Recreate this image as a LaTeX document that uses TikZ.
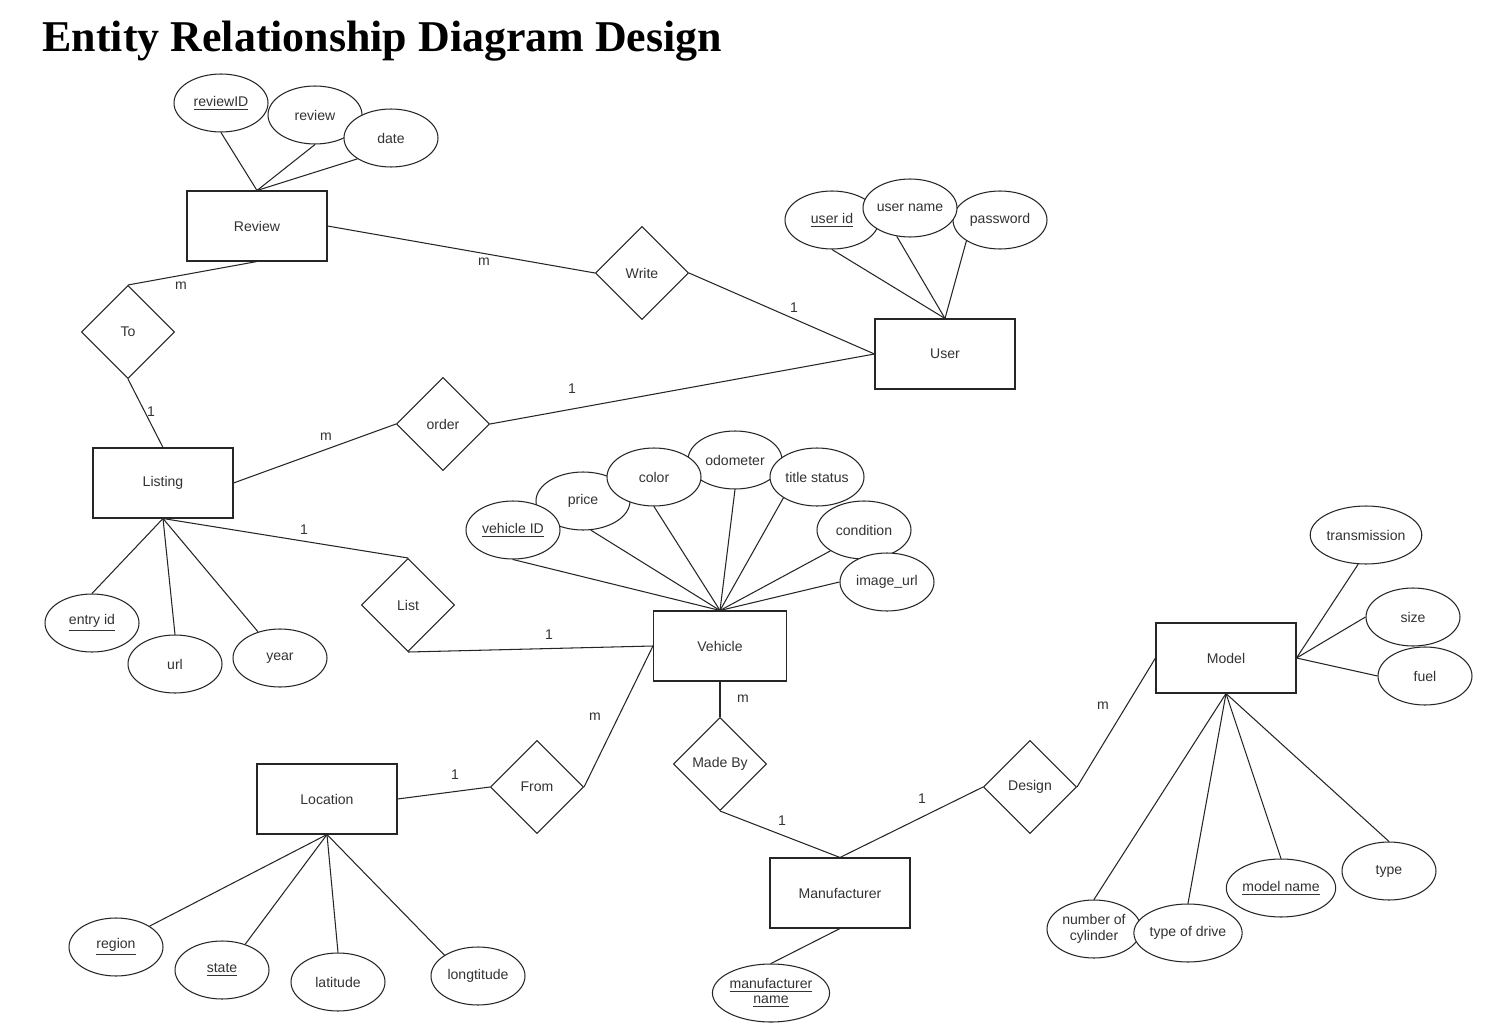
\documentclass[tikz,border=0pt]{standalone}
\usepackage{fontspec}
\setmainfont{Liberation Sans}
\newfontfamily\titlefont{Liberation Serif}
\usetikzlibrary{shapes.geometric}

\definecolor{ink}{HTML}{333333}

\tikzset{
    entity/.style={draw, fill=white, minimum width=2.8cm, minimum height=1.4cm, inner sep=0},
    attr/.style={draw, fill=white, ellipse, minimum width=1.88cm, minimum height=1.16cm, inner sep=0, align=center},
    rel/.style={draw, fill=white, diamond, minimum width=1.86cm, minimum height=1.86cm, inner sep=0},
    card/.style={inner sep=0},
}

\begin{document}
\begin{tikzpicture}[x=0.02cm, y=-0.02cm, line width=0.6pt, draw=black!85, text=ink,
    font=\fontsize{8}{9.5}\selectfont]

        \useasboundingbox (0,0) rectangle (1492,1034);

        \node[anchor=base west, inner sep=0, text=black, font=\titlefont\bfseries\fontsize{25}{28}\selectfont] (title) at (42,52) {Entity Relationship Diagram Design};

        % entities
        \node[entity] (review) at (257,226) {Review};
        \node[entity] (user) at (945,354) {User};
        \node[entity] (listing) at (163,483) {Listing};
        \node[entity, minimum width=2.66cm] (vehicle) at (720,646) {Vehicle};
        \node[entity] (location) at (327,799) {Location};
        \node[entity] (manuf) at (840,893) {Manufacturer};
        \node[entity] (model) at (1226,658) {Model};

        % relationships
        \node[rel] (write) at (642,273) {Write};
        \node[rel] (to) at (128,332) {To};
        \node[rel] (order) at (443,424) {order};
        \node[rel] (list) at (408,605) {List};
        \node[rel] (from) at (537,787) {From};
        \node[rel] (madeby) at (720,764) {Made By};
        \node[rel] (design) at (1030,787) {Design};

        % attributes
        \node[attr] (reviewid) at (221,103) {\underline{reviewID}};
        \node[attr] (revtext) at (315,115) {review};
        \node[attr] (revdate) at (391,138) {date};

        \node[attr] (userid) at (832,220) {\underline{user id}};
        \node[attr] (password) at (1000,220) {password};
        \node[attr] (username) at (910,208) {user name};

        \node[attr] (entryid) at (92,623) {\underline{entry id}};
        \node[attr] (url) at (175,664) {url};
        \node[attr] (year) at (280,658) {year};

        \node[attr] (price) at (583,501) {price};
        \node[attr] (odometer) at (735,460) {odometer};
        \node[attr] (color) at (654,477) {color};
        \node[attr] (vehicleid) at (513,530) {\underline{vehicle ID}};
        \node[attr] (titlestatus) at (817,477) {title status};
        \node[attr] (condition) at (864,530) {condition};
        \node[attr] (imageurl) at (887,582) {image\_url};

        \node[attr] (transmission) at (1366,535) {transmission};
        \node[attr] (size) at (1413,617) {size};
        \node[attr] (fuel) at (1425,676) {fuel};
        \node[attr] (cylinder) at (1094,929) {number of\\cylinder};
        \node[attr] (drive) at (1188,933) {type of drive};
        \node[attr] (modelname) at (1281,888) {\underline{model name}};
        \node[attr] (type) at (1389,871) {type};

        \node[attr] (region) at (116,947) {\underline{region}};
        \node[attr] (state) at (222,970) {\underline{state}};
        \node[attr] (latitude) at (338,982) {latitude};
        \node[attr] (longtitude) at (478,976) {longtitude};

        \node[attr] (manufname) at (771,993) {\underline{manufacturer}\\[-1pt]\underline{name}};

        % attribute links
        \foreach \a/\p in {reviewid/south, revtext/south, revdate/south west}
            \draw (\a.\p) -- (review.north);
        \foreach \a/\p in {userid/south, username/-115, password/south west}
            \draw (\a.\p) -- (user.north);
        \foreach \a/\p in {entryid/north, url/north, year/130}
            \draw (\a.\p) -- (listing.south);
        \foreach \a/\p in {vehicleid/south, price/-75, color/south, odometer/south, titlestatus/south west, condition/south west, imageurl/west}
            \draw (\a.\p) -- (vehicle.north);
        \foreach \a/\p in {transmission/-105, size/west, fuel/west}
            \draw (\a.\p) -- (model.east);
        \foreach \a in {cylinder, drive, modelname, type}
            \draw (\a.north) -- (model.south);
        \foreach \a/\p in {region/north east, state/48, latitude/north, longtitude/north west}
            \draw (\a.\p) -- (location.south);
        \draw (manufname.north) -- (manuf.south);

        % relationship links
        \draw (review.east) -- (write.west);
        \draw (write.east) -- (user.west);
        \draw (to.north) -- (review.south);
        \draw (to.south) -- (listing.north);
        \draw (listing.east) -- (order.west);
        \draw (order.east) -- (user.west);
        \draw (listing.south) -- (list.north);
        \draw (list.south) -- (vehicle.west);
        \draw (location.east) -- (from.west);
        \draw (from.east) -- (vehicle.west);
        \draw (vehicle.south) -- (madeby.north);
        \draw (madeby.south) -- (manuf.north);
        \draw (manuf.north) -- (design.west);
        \draw (design.east) -- (model.west);

        % cardinalities
        \node[card] (cwr) at (484,262) {m};
        \node[card] (cwu) at (794,308) {1};
        \node[card] (ctr) at (181,286) {m};
        \node[card] (ctl) at (151,412) {1};
        \node[card] (col) at (326,437) {m};
        \node[card] (cou) at (572,389) {1};
        \node[card] (cll) at (304,530) {1};
        \node[card] (clv) at (549,635) {1};
        \node[card] (cfl) at (455,775) {1};
        \node[card] (cfv) at (595,717) {m};
        \node[card] (cmv) at (743,699) {m};
        \node[card] (cmm) at (782,821) {1};
        \node[card] (cdm) at (922,799) {1};
        \node[card] (cdo) at (1103,706) {m};

    \end{tikzpicture}
\end{document}
